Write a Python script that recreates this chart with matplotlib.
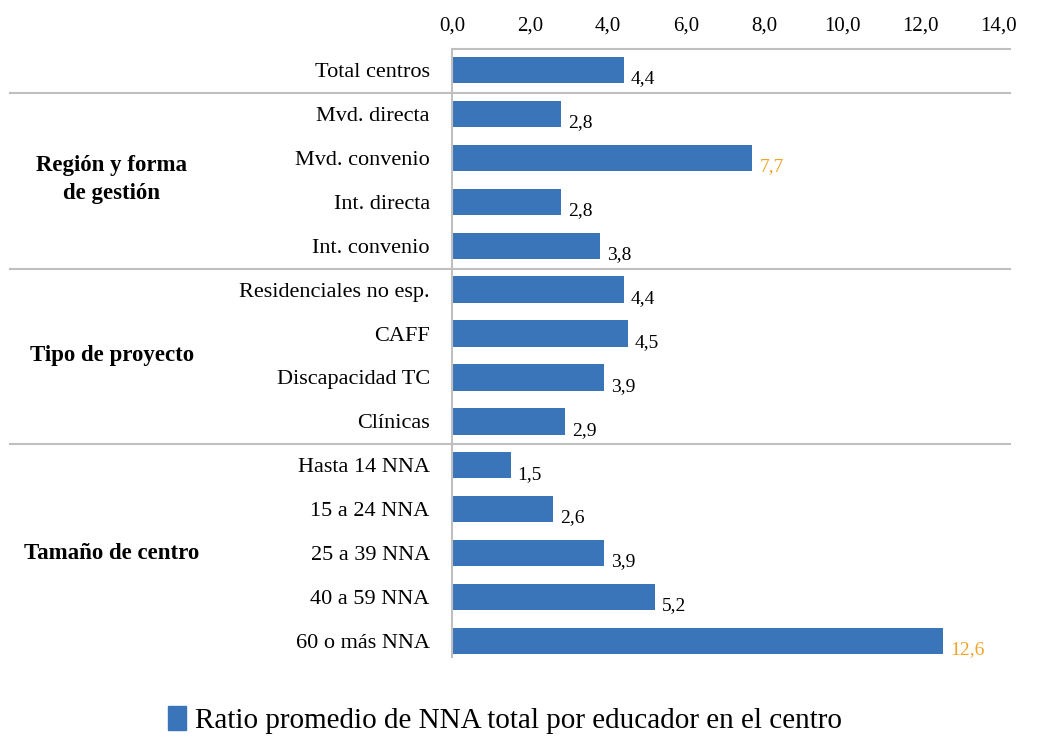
import numpy as np
import matplotlib.pyplot as plt
from matplotlib.patches import Patch

plt.rcParams['font.family'] = ['Liberation Serif', 'DejaVu Serif']

categories = ['Total centros', 'Mvd. directa', 'Mvd. convenio', 'Int. directa',
              'Int. convenio', 'Residenciales no esp.', 'CAFF', 'Discapacidad TC',
              'Clínicas', 'Hasta 14 NNA', '15 a 24 NNA', '25 a 39 NNA',
              '40 a 59 NNA', '60 o más NNA']
values = [4.4, 2.8, 7.7, 2.8, 3.8, 4.4, 4.5, 3.9, 2.9, 1.5, 2.6, 3.9, 5.2, 12.6]
highlight = [2, 13]  # values shown in orange
groups = ['Región y forma\nde gestión', 'Tipo de proyecto', 'Tamaño de centro']
group_rows = [(1, 4), (5, 8), (9, 13)]
x_ticks = np.arange(0, 15, 2)
legend_label = 'Ratio promedio de NNA total por educador en el centro'

bar_color = '#3B75B9'
hl_color = '#F0A428'
line_color = '#BFBFBF'

fig = plt.figure(figsize=(10.45, 7.37), dpi=100)
ax = fig.add_axes([452 / 1045, 1 - 657 / 737, 546 / 1045, 608 / 737])

y = np.arange(len(values))
ax.barh(y, values, height=0.6, color=bar_color)
ax.set_ylim(13.364, -0.478)
ax.set_xlim(0, 14)

ax.xaxis.tick_top()
ax.set_xticks(x_ticks)
ax.set_xticklabels([f'{t:.1f}'.replace('.', ',') for t in x_ticks], fontsize=15)
ax.tick_params(axis='x', length=0, pad=10)
ax.set_yticks(y)
ax.set_yticklabels(categories, fontsize=16)
ax.tick_params(axis='y', length=0, pad=16)

for s in ['right', 'bottom', 'top']:
    ax.spines[s].set_visible(False)
ax.spines['left'].set_color(line_color)
ax.spines['left'].set_linewidth(1.5)

# top rule and group separators
ax.plot([0, 1.022], [-0.478, -0.478], transform=ax.get_yaxis_transform(),
        color=line_color, lw=1.5, clip_on=False)
for yy in [0.52, 4.52, 8.52]:
    ax.plot([-0.81, 1.022], [yy, yy], transform=ax.get_yaxis_transform(),
            color=line_color, lw=1.5, clip_on=False)

# value labels
for i, v in enumerate(values):
    c = hl_color if i in highlight else 'black'
    ax.text(v + 0.18, i + 0.2, f'{v:.1f}'.replace('.', ','), va='center',
            ha='left', fontsize=14, color=c)

# group labels
for g, (a, b) in zip(groups, group_rows):
    ax.text(-0.623, (a + b) / 2, g, transform=ax.get_yaxis_transform(),
            ha='center', va='center', fontsize=16.5, fontweight='bold',
            linespacing=1.45)

fig.legend([Patch(color=bar_color)], [legend_label], loc='center',
           bbox_to_anchor=(505 / 1045, 1 - 720 / 737), frameon=False,
           fontsize=21, handlelength=0.6, handleheight=0.9, handletextpad=0.3)

plt.savefig('out.png', dpi=100)
